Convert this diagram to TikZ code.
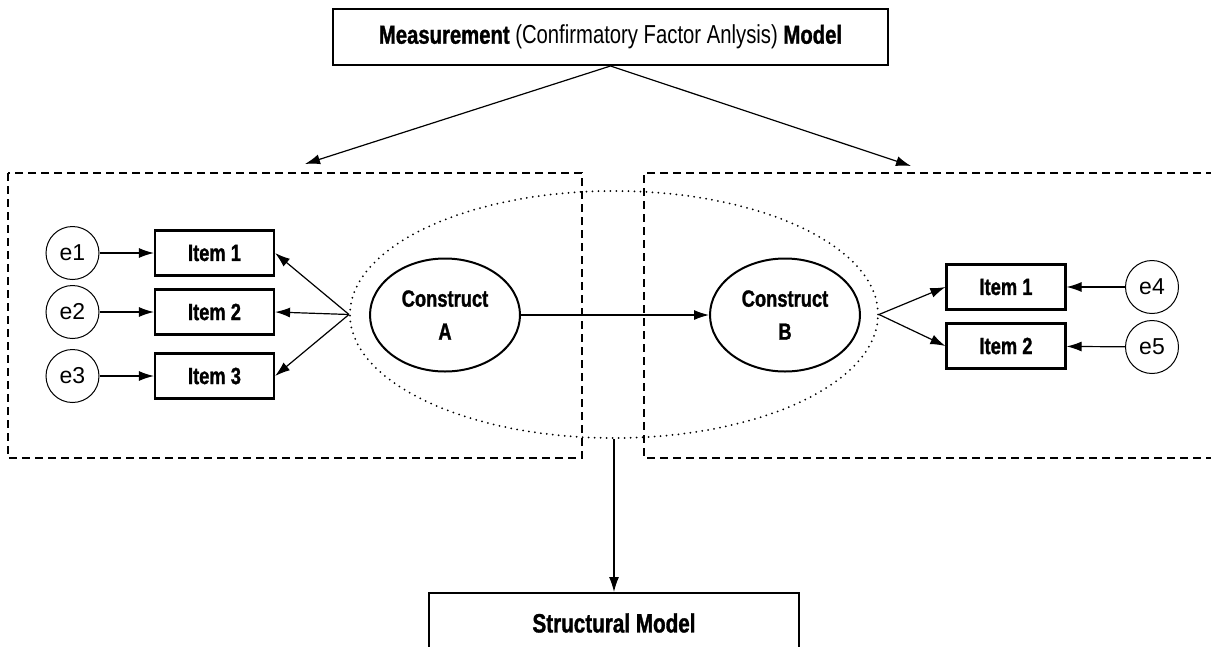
\documentclass[tikz,border=0pt]{standalone}
\usepackage{fontspec}
\setmainfont{Liberation Sans}
\newfontfamily\cond[FakeStretch=0.78, BoldFeatures={FakeBold=1.2}]{Liberation Sans}
\usetikzlibrary{shapes.geometric,arrows.meta}

\tikzset{
  item/.style={draw, line width=2.2pt, minimum width=119pt, minimum height=45pt,
    inner sep=0pt, font=\cond\bfseries\fontsize{23.5pt}{23.5pt}\selectfont},
  err/.style={circle, draw, line width=1pt, minimum size=53pt, inner sep=0pt,
    font=\fontsize{23pt}{23pt}\selectfont},
  construct/.style={ellipse, draw, line width=2pt, minimum width=150pt,
    minimum height=113pt, inner sep=0pt, align=center,
    font=\cond\bfseries\fontsize{23.5pt}{33pt}\selectfont},
  modelbox/.style={draw, line width=2pt, inner sep=0pt},
  arr/.style={-{Latex[length=15pt,width=10pt]}, line width=1.2pt},
  region/.style={draw, dash pattern=on 8pt off 5pt, line width=1.2pt},
  scope ring/.style={ellipse, draw, line width=2pt, line cap=round,
    dash pattern=on 0pt off 6pt, inner sep=0pt}
}

\begin{document}
\begin{tikzpicture}[x=1pt, y=-1pt]
  \useasboundingbox (0,0) rectangle (1211,646);
  \fill[white] (0,0) rectangle (1211,646);

  % measurement regions
  \draw[region] (8,173) rectangle (582,458);
  \draw[region] (1240,173) -- (644,173) -- (644,458) -- (1240,458);

  % dotted ring around both constructs
  \node[scope ring, minimum width=528pt, minimum height=247pt] (ring) at (614,314.5) {};

  % top box
  \node[modelbox, minimum width=555pt, minimum height=56pt,
        font=\cond\fontsize{26pt}{26pt}\selectfont] (meas) at (610.5,37)
    {\textbf{Measurement} (Confirmatory Factor Anlysis) \textbf{Model}};

  % bottom box (runs past the lower edge)
  \node[modelbox, anchor=north, minimum width=370pt, minimum height=60pt,
        font=\cond\bfseries\fontsize{26.5pt}{26.5pt}\selectfont] (struct) at (614,592)
    {Structural Model};

  % constructs
  \node[construct] (ca) at (445,315) {Construct\\A};
  \node[construct] (cb) at (785,315) {Construct\\B};

  % left items and errors
  \node[item] (i1) at (214.5,253) {Item 1};
  \node[item] (i2) at (214.5,312) {Item 2};
  \node[item] (i3) at (214.5,376) {Item 3};
  \node[err] (e1) at (72.5,253) {e1};
  \node[err] (e2) at (72.5,312) {e2};
  \node[err] (e3) at (72.5,376) {e3};

  % right items and errors
  \node[item] (j1) at (1006,287) {Item 1};
  \node[item] (j2) at (1006,346) {Item 2};
  \node[err] (e4) at (1152,287) {e4};
  \node[err] (e5) at (1152,347) {e5};

  % arrow ends on the region tops
  \coordinate (lt) at (305,164);
  \coordinate (rt) at (911,166);

  % connectors
  \draw[arr] (meas.south) -- (lt);
  \draw[arr] (meas.south) -- (rt);
  \draw[arr] (ring.south) -- (struct.north);

  \draw[arr] (e1) -- (i1);
  \draw[arr] (e2) -- (i2);
  \draw[arr] (e3) -- (i3);
  \draw[arr] (ring.west) -- (i1.east);
  \draw[arr] (ring.west) -- (i2.east);
  \draw[arr] (ring.west) -- (i3.east);

  \draw[arr] (ca) -- (cb);

  \draw[arr] (ring.east) -- (j1.west);
  \draw[arr] (ring.east) -- (j2.west);
  \draw[arr] (e4) -- (j1);
  \draw[arr] (e5) -- (j2);
\end{tikzpicture}
\end{document}
